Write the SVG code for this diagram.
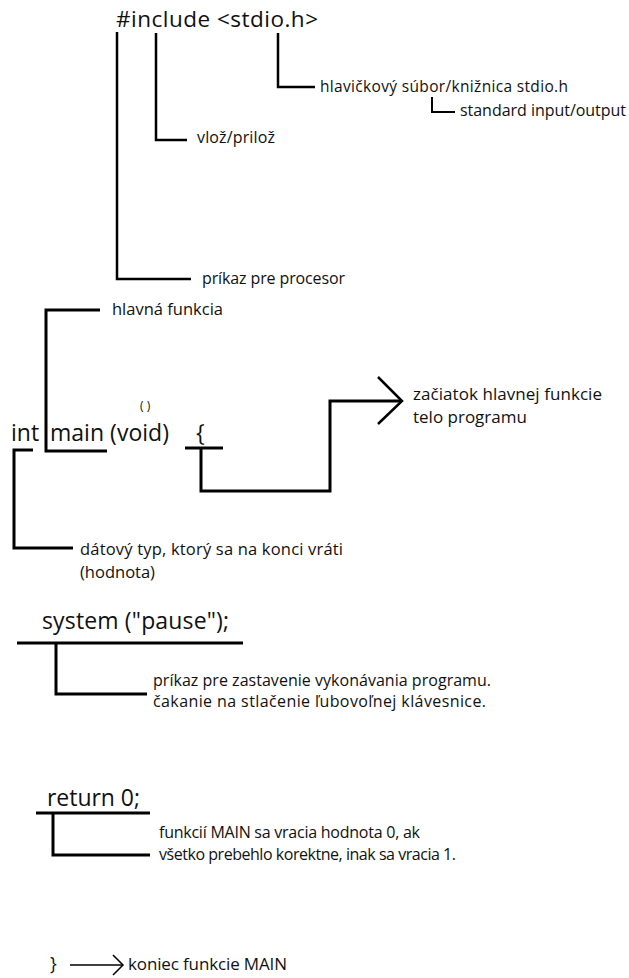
<svg xmlns="http://www.w3.org/2000/svg" width="629" height="978" viewBox="0 0 629 978">
<style>
text{font-family:"Open Sans","Noto Sans","Liberation Sans",sans-serif;fill:#111}
.code{font-size:23px}
.lbl{font-size:16.5px}
.sm{font-size:16px}
.ln{fill:none;stroke:#000;stroke-width:3;stroke-linejoin:miter;stroke-linecap:butt}
.lt{fill:none;stroke:#000;stroke-width:2.5}
.thin{fill:none;stroke:#000;stroke-width:1.5}
</style>
<rect width="629" height="978" fill="#fff"/>
<g id="include">
<text class="code" x="116" y="27" style="font-size:22.5px" textLength="202">#include &lt;stdio.h&gt;</text>
</g>
<g id="lbl-prikaz"><text class="lbl" x="202" y="284" style="font-size:16px" textLength="143">príkaz pre procesor</text></g>
<g id="lbl-vloz"><text class="lbl" x="197" y="143" style="font-size:16px" textLength="78">vlož/prilož</text></g>
<g id="lbl-hlavickovy"><text class="sm" x="320" y="92" style="font-size:15.5px" textLength="248">hlavičkový súbor/knižnica stdio.h</text></g>
<g id="lbl-standard"><text class="lbl" x="460" y="116" style="font-size:16px" textLength="166">standard input/output</text></g>
<g id="main">
<text class="code" x="11" y="441">int</text>
<text class="code" x="50" y="441" textLength="119">main (void)</text>
<text class="code" x="196" y="441">{</text>
<text x="140" y="410" style="font-size:12px">( )</text>
</g>
<g id="lbl-hlavna"><text class="lbl" x="112" y="315" textLength="111">hlavná funkcia</text></g>
<g id="lbl-zaciatok">
<text class="lbl" x="413" y="400" style="font-size:17px" textLength="189">začiatok hlavnej funkcie</text>
<text class="lbl" x="413" y="423" style="font-size:17px">telo programu</text>
</g>
<g id="lbl-datovy">
<text class="lbl" x="80" y="555" textLength="263">dátový typ, ktorý sa na konci vráti</text>
<text class="lbl" x="80" y="578">(hodnota)</text>
</g>
<g id="system"><text class="code" x="42" y="629" textLength="187">system ("pause");</text></g>
<g id="lbl-system">
<text class="sm" x="153" y="686" textLength="338">príkaz pre zastavenie vykonávania programu.</text>
<text class="sm" x="153" y="707" textLength="333">čakanie na stlačenie ľubovoľnej klávesnice.</text>
</g>
<g id="return"><text class="code" x="47" y="806" textLength="93">return 0;</text></g>
<g id="lbl-return">
<text class="sm" x="159" y="838" textLength="261">funkcií MAIN sa vracia hodnota 0, ak</text>
<text class="sm" x="159" y="860" textLength="297">všetko prebehlo korektne, inak sa vracia 1.</text>
</g>
<g id="end">
<text x="50" y="970" style="font-size:18px">}</text>
<text class="lbl" x="128" y="970" style="font-size:17px" textLength="159">koniec funkcie MAIN</text>
</g>
<g id="connectors">
<path class="lt" d="M117,32 V279 H191"/>
<path class="lt" d="M156,33 V140 H187"/>
<path class="lt" d="M278,33 V87 H315"/>
<path class="thin" d="M432,97 V112 H455" style="stroke-width:2"/>
<path class="ln" d="M100,310 H46 V451 H107"/>
<path class="ln" d="M33,450 H14 V548 H73"/>
<path class="ln" d="M185,448 H223 M201,448 V491 H330 V401 H402"/>
<path class="ln" d="M378,377 L402,401 L378,424" style="stroke-width:2.5"/>
<path class="ln" d="M17,643 H243 M56,643 V694 H147"/>
<path class="ln" d="M36,813 H150 M53,813 V855 H150"/>
<path class="thin" d="M70,965 H122"/>
<path class="thin" d="M113,955 L123,965 L113,975"/>
</g>
</svg>
